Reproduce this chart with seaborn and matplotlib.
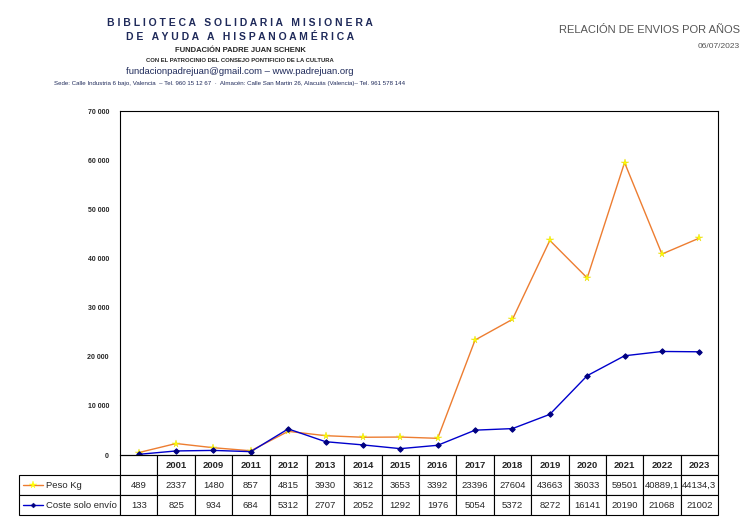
import numpy as np
import pandas as pd
import seaborn as sns
import matplotlib.pyplot as plt

years = ["", "2001", "2009", "2011", "2012", "2013", "2014", "2015", "2016",
         "2017", "2018", "2019", "2020", "2021", "2022", "2023"]
peso = [489, 2337, 1480, 857, 4815, 3930, 3612, 3653, 3392, 23396, 27604,
        43663, 36033, 59501, 40889.1, 44134.3]
coste = [133, 825, 934, 684, 5312, 2707, 2052, 1292, 1976, 5054, 5372,
         8272, 16141, 20190, 21068, 21002]
peso_txt = ["489", "2337", "1480", "857", "4815", "3930", "3612", "3653", "3392",
            "23396", "27604", "43663", "36033", "59501", "40889,1", "44134,3"]

df = pd.DataFrame({"pos": np.arange(len(years)) + 0.5, "peso": peso, "coste": coste})

sns.set_style("white")
plt.rcParams["font.family"] = "Liberation Sans"
fig = plt.figure(figsize=(7.5, 5.27), dpi=100)
W, H = 750, 527
ax = fig.add_axes([120 / W, 1 - 455 / H, 598 / W, 344 / H])

orange = "#ED7D31"
blue = "#0000CC"
sns.lineplot(data=df, x="pos", y="peso", ax=ax, color=orange, lw=1,
             marker="*", markersize=5.5, markerfacecolor="yellow",
             markeredgecolor="#E6D800", markeredgewidth=0.3)
sns.lineplot(data=df, x="pos", y="coste", ax=ax, color=blue, lw=1,
             marker="D", markersize=2.8, markerfacecolor="#000080",
             markeredgecolor="#000080")

ax.set_xlim(0, len(years))
ax.set_ylim(0, 70000)
ax.set_yticks(range(0, 70001, 10000))
ax.set_yticklabels([f"{v:,}".replace(",", " ") if v else "0" for v in range(0, 70001, 10000)],
                   fontsize=5, fontweight="bold")
ax.tick_params(axis="y", length=0, pad=8)
ax.set_xticks([])
ax.set_xlabel("")
ax.set_ylabel("")
for s in ax.spines.values():
    s.set_color("black")
    s.set_linewidth(0.8)

# data table
cells = [[""] + years, [""] + peso_txt, [""] + [str(c) for c in coste]]
x0 = -101 / 598
tbl = ax.table(cellText=cells, bbox=[x0, -60 / 344, 1 - x0, 60 / 344],
               cellLoc="center")
tbl.auto_set_font_size(False)
tbl.set_fontsize(6.8)
lw_frac = 101 / 699
for (r, c), cell in tbl.get_celld().items():
    cell.set_width(lw_frac * (1 - x0) if c == 0 else (1 - lw_frac) * (1 - x0) / 16)
    cell.set_linewidth(0.8)
    cell.get_text().set_fontweight("bold" if r == 0 else "normal")
    if r == 0 and c == 0:
        cell.visible_edges = ""

# row labels with legend keys
for yv, col, mk, ms, mf, label in [(-30 / 344, orange, "*", 5.5, "yellow", "Peso Kg"),
                                  (-50 / 344, blue, "D", 2.5, "#000080", "Coste solo envío")]:
    ax.plot([x0 + 4 / 598, x0 + 24 / 598], [yv] * 2, color=col, lw=1,
            transform=ax.transAxes, clip_on=False)
    ax.plot([x0 + 14 / 598], [yv], marker=mk, color=mf, markersize=ms,
            markeredgecolor=mf, markeredgewidth=0.3, transform=ax.transAxes, clip_on=False)
    ax.text(x0 + 27 / 598, yv, label, transform=ax.transAxes, ha="left", va="center",
            fontsize=6.8)

# header
navy = "#1F2A5A"
fig.text(240 / W, 1 - 23 / H, "B I B L I O T E C A   S O L I D A R I A   M I S I O N E R A",
         ha="center", va="center", fontsize=7.5, fontweight="bold", color=navy)
fig.text(240 / W, 1 - 37 / H, "D E   A Y U D A   A   H I S P A N O A M É R I C A",
         ha="center", va="center", fontsize=7.5, fontweight="bold", color=navy)
fig.text(240 / W, 1 - 50 / H, "FUNDACIÓN PADRE JUAN SCHENK", ha="center", va="center",
         fontsize=5.5, fontweight="bold")
fig.text(240 / W, 1 - 61 / H, "CON EL PATROCINIO DEL CONSEJO PONTIFICIO DE LA CULTURA",
         ha="center", va="center", fontsize=4.2, fontweight="bold")
fig.text(240 / W, 1 - 72 / H, "fundacionpadrejuan@gmail.com – www.padrejuan.org",
         ha="center", va="center", fontsize=6.8, color=navy)
fig.text(230 / W, 1 - 83 / H,
         "Sede: Calle Industria 6 bajo, Valencia  – Tel. 960 15 12 67  ·  Almacén: Calle San Martin 26, Alacuás (Valencia)– Tel. 961 578 144",
         ha="center", va="center", fontsize=4.4, color=navy)
fig.text(740 / W, 1 - 30 / H, "RELACIÓN DE ENVIOS POR AÑOS", ha="right", va="center",
         fontsize=8, color="#555555")
fig.text(740 / W, 1 - 47 / H, "06/07/2023", ha="right", va="center",
         fontsize=6, color="#555555")

fig.savefig("out.png", dpi=100)
